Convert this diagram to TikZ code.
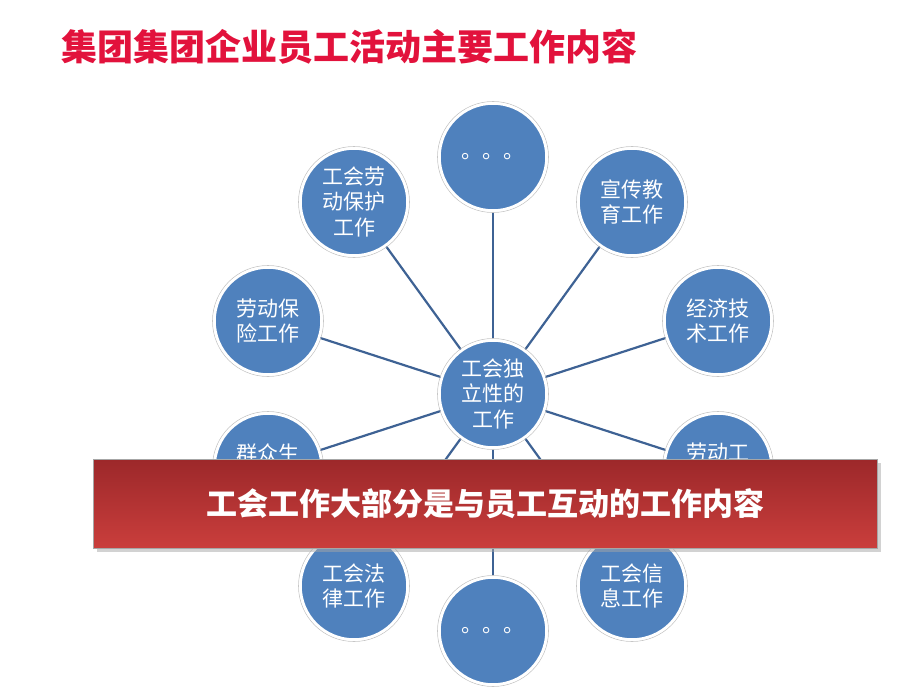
\documentclass[tikz,border=0pt]{standalone}
\usepackage{fontspec}
\setmainfont{Noto Sans CJK SC}
\usetikzlibrary{backgrounds,shadows}
\definecolor{cfill}{RGB}{79,129,189}
\definecolor{cline}{RGB}{62,98,148}
\definecolor{ctitle}{RGB}{226,18,60}
\definecolor{btop}{RGB}{156,40,42}
\definecolor{bbot}{RGB}{202,62,60}
\tikzset{
  bub/.style={circle, fill=cfill, draw=white, line width=2.5pt, minimum size=107pt, inner sep=0pt,
    text=white, align=center, font=\fontsize{21}{25.5}\selectfont,
    append after command={\pgfextra{\draw[gray!45, line width=0.6pt] (\tikzlastnode.center) circle[radius=55.5];}}},
  bubtxt/.style={inner sep=0pt, text=white, font=\fontsize{21}{25.5}\selectfont},
  conn/.style={draw=cline, line width=2.2pt},
  banner/.style={draw=gray!70, line width=0.8pt, top color=btop, bottom color=bbot,
    minimum width=784pt, minimum height=89pt, inner sep=0pt, text=white,
    font=\fontsize{31}{35}\selectfont\bfseries},
  ttl/.style={text=ctitle, font=\fontsize{36}{38}\selectfont\bfseries, anchor=west, inner sep=0pt}
}
\begin{document}
\begin{tikzpicture}[x=1pt,y=-1pt]
\useasboundingbox (0,0) rectangle (920,690);
\node[ttl] (title) at (61,47) {集团集团企业员工活动主要工作内容};
\node[bub] (ctr) at (493,394) {工会独\\立性的\\工作};
\node[bub] (c0) at (493,157) {\raisebox{-4pt}{。。。}};
\node[bub] (c1) at (632,202) {宣传教\\育工作};
\node[bub] (c2) at (718,321) {经济技\\术工作};
\node[bub] (c3) at (718,467) {};
\node[bubtxt] (t3) at ([yshift=14pt]c3.center) {劳动工};
\node[bub] (c4) at (632,586) {工会信\\息工作};
\node[bub] (c5) at (493,631) {\raisebox{-4pt}{。。。}};
\node[bub] (c6) at (354,586) {工会法\\律工作};
\node[bub] (c7) at (268,467) {};
\node[bubtxt] (t7) at ([yshift=14pt]c7.center) {群众生};
\node[bub] (c8) at (268,321) {劳动保\\险工作};
\node[bub] (c9) at (354,202) {工会劳\\动保护\\工作};
\begin{pgfonlayer}{background}
\foreach \i in {0,...,9} \draw[conn] (ctr) -- (c\i);
\end{pgfonlayer}
\fill[black!35, opacity=0.5] (97,463) rectangle (881,552);
\node[banner] (band) at (485,503.5) {工会工作大部分是与员工互动的工作内容};
\end{tikzpicture}
\end{document}
